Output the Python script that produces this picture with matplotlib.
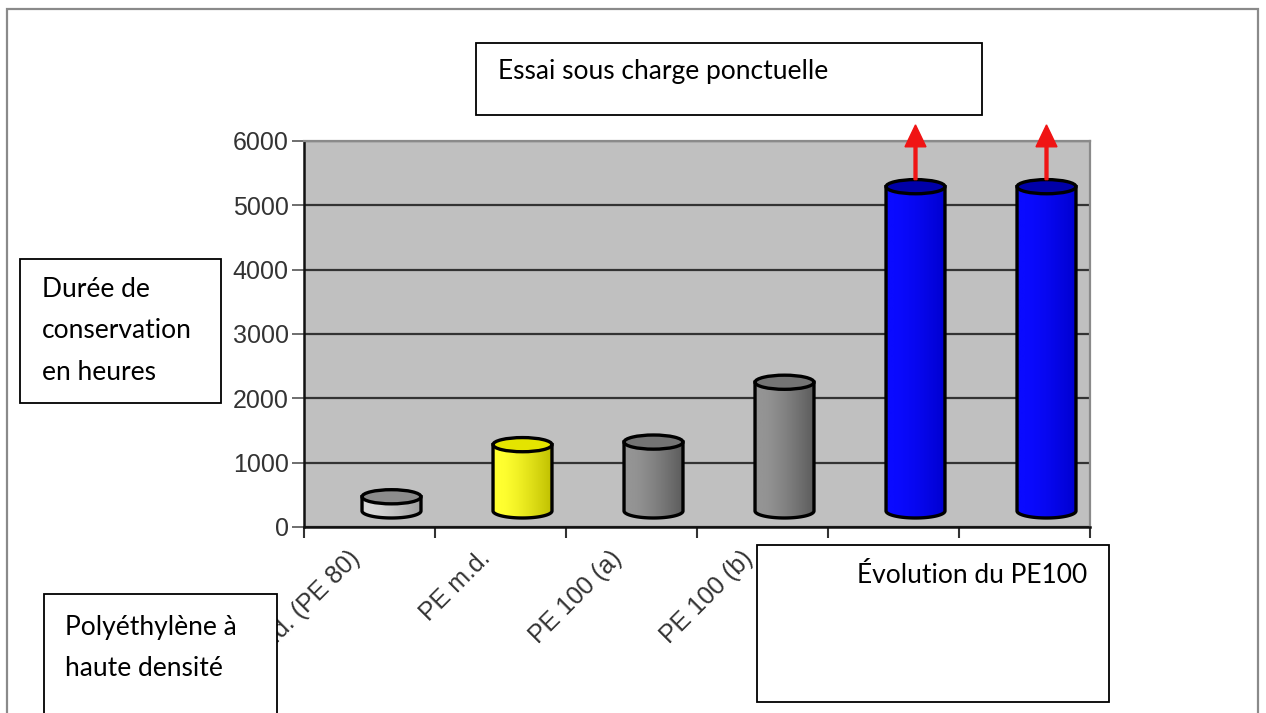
import numpy as np
import matplotlib
matplotlib.use("Agg")
import matplotlib.pyplot as plt
from matplotlib.patches import Rectangle, Ellipse, PathPatch, FancyArrow
from matplotlib.path import Path
from matplotlib.colors import to_rgb
from matplotlib.transforms import ScaledTranslation

# data (hours)
categories = ["PE h.d. (PE 80)", "PE m.d.", "PE 100 (a)", "PE 100 (b)",
              "PE 100 RC (a)", "PE 100 RC (b)"]
hours = [220, 1030, 1070, 2000, 5040, 5040]
still_running = [False, False, False, False, True, True]
y_ticks = [0, 1000, 2000, 3000, 4000, 5000, 6000]

# bar styles: (body light, body dark, top face)
bar_styles = [
    ("#d8d8d8", "#a0a0a0", "#8c8c8c"),
    ("#ffff30", "#c0c000", "#e4e400"),
    ("#949494", "#5c5c5c", "#747474"),
    ("#949494", "#5c5c5c", "#747474"),
    ("#0a0aff", "#0000d0", "#0000a8"),
    ("#0a0aff", "#0000d0", "#0000a8"),
]

W, H = 1266, 713


def fx(x):
    return x / W


def fy(y):
    return 1 - y / H


fig = plt.figure(figsize=(12.66, 7.13), dpi=100)
fig.patch.set_facecolor("white")

ax = fig.add_axes([fx(304), fy(527), fx(1090 - 304), (527 - 141) / H])
ax.set_facecolor("#c0c0c0")

# 3D look: bars start a bit above zero and sit right of the category centre
base = 250
shift = 22 / 131
bar_w = 0.45
ry = 110


def draw_cylinder(xc, height, light, dark, top_col):
    x0, x1 = xc - bar_w / 2, xc + bar_w / 2
    top = base + height
    t = np.linspace(np.pi, 2 * np.pi, 80)
    bx = xc + bar_w / 2 * np.cos(t)
    by = base + ry * np.sin(t)
    verts = [(x0, top)] + list(zip(bx, by)) + [(x1, top), (x0, top)]
    path = Path(verts, closed=True)
    outline = PathPatch(path, facecolor="none", edgecolor="black", lw=2.4, zorder=4)
    ax.add_patch(outline)
    u = np.linspace(0, 1, 120)
    w = np.clip((u - 0.15) / 0.85, 0, 1) ** 1.3
    c0, c1 = np.array(to_rgb(light)), np.array(to_rgb(dark))
    rgb = (c0[None, :] * (1 - w[:, None]) + c1[None, :] * w[:, None])[None, :, :]
    im = ax.imshow(rgb, extent=(x0, x1, base - ry, top), aspect="auto",
                   origin="lower", interpolation="bilinear", zorder=3)
    im.set_clip_path(outline)
    ax.add_patch(Ellipse((xc, top), bar_w, 2 * ry, facecolor=top_col,
                         edgecolor="black", lw=2.4, zorder=5))
    return top


for i, (val, sty) in enumerate(zip(hours, bar_styles)):
    xc = i + 0.5 + shift
    top = draw_cylinder(xc, val, *sty)
    if still_running[i]:
        start = top + ry
        arr = FancyArrow(xc, start, 0, 6250 - start, width=0.022, head_width=0.16,
                         head_length=340, length_includes_head=True,
                         color="#f01414", clip_on=False, zorder=6)
        ax.add_patch(arr)

ax.set_xlim(0, len(categories))
ax.set_ylim(0, 6000)
ax.set_yticks(y_ticks)
ax.set_yticklabels([str(v) for v in y_ticks], fontsize=18,
                   family="Liberation Sans", color="#333333")
ax.yaxis.grid(True, color="#333333", lw=1.6)
ax.set_axisbelow(True)
ax.tick_params(axis="y", length=9, width=1.2, color="#555555", pad=2)

ax.set_xticks(np.arange(len(categories) + 1))
ax.set_xticklabels([])
ax.set_xticks(np.arange(len(categories)) + 0.5, minor=True)
ax.set_xticklabels(categories, minor=True, rotation=45, ha="right",
                   rotation_mode="anchor", fontsize=18,
                   family="Liberation Sans", color="#333333")
ax.tick_params(axis="x", which="major", length=8, width=1.5, color="#333333")
ax.tick_params(axis="x", which="minor", length=0, pad=14)
for lab in ax.get_xticklabels(minor=True):
    lab.set_transform(lab.get_transform() + ScaledTranslation(-0.22, 0, fig.dpi_scale_trans))

for side in ("left", "bottom"):
    ax.spines[side].set_color("#111111")
    ax.spines[side].set_linewidth(1.8)
for side in ("top", "right"):
    ax.spines[side].set_color("#8a8a8a")
    ax.spines[side].set_linewidth(1.6)

# outer frame of the picture
fig.add_artist(Rectangle((fx(7), fy(740)), fx(1258 - 7), (740 - 9) / H,
                         transform=fig.transFigure, facecolor="none",
                         edgecolor="#8a8a8a", lw=1.6, zorder=0.5))

# text boxes laid over the chart
boxes = [
    ((476, 43, 982, 115), [(498, 79, "Essai sous charge ponctuelle")]),
    ((20, 259, 221, 403), [(42, 297, "Durée de"), (42, 338, "conservation"),
                           (42, 380, "en heures")]),
    ((44, 594, 277, 740), [(65, 635, "Polyéthylène à"), (65, 676, "haute densité")]),
    ((757, 545, 1109, 702), [(857, 583, "Évolution du PE100")]),
]
for (x0, y0, x1, y1), lines in boxes:
    fig.add_artist(Rectangle((fx(x0), fy(y1)), fx(x1 - x0), (y1 - y0) / H,
                             transform=fig.transFigure, facecolor="white",
                             edgecolor="black", lw=1.3, zorder=10))
    for tx, ty, s in lines:
        fig.text(fx(tx), fy(ty), s, fontsize=19, family="Lato", color="black",
                 va="baseline", ha="left", zorder=11)

fig.savefig("out.png", dpi=100)
